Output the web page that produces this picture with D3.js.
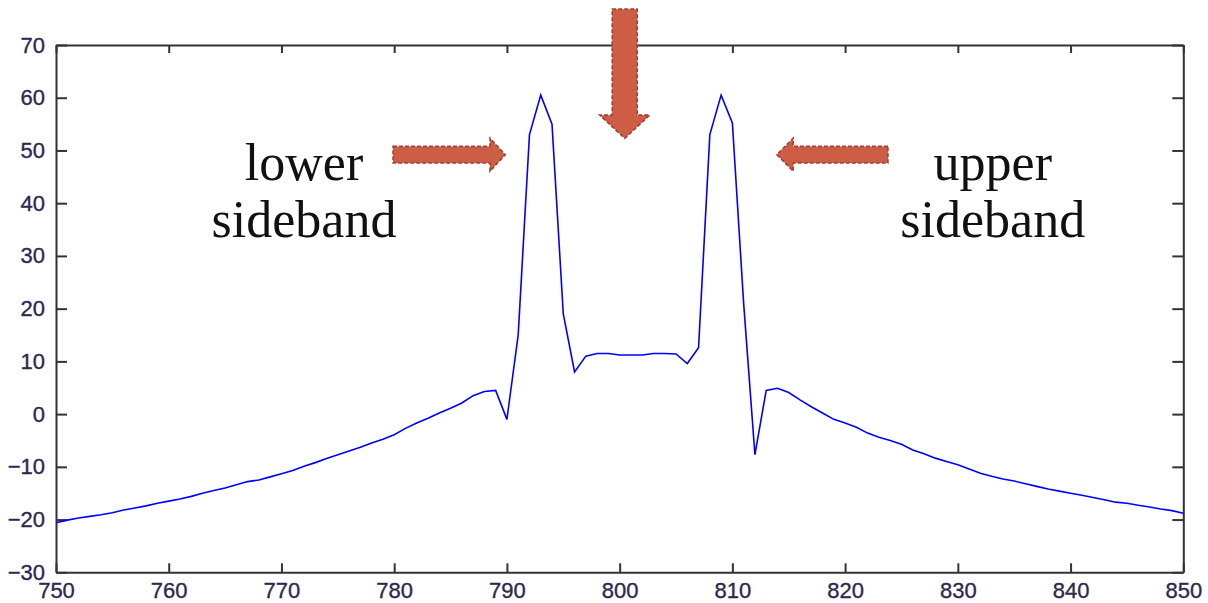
<!DOCTYPE html>
<html>
<head>
<meta charset="utf-8">
<script src="https://cdn.jsdelivr.net/npm/d3@7"></script>
<style>
  html, body { margin: 0; padding: 0; background: #fff; }
  svg { display: block; }
</style>
</head>
<body>
<svg id="chart" width="1208" height="603"></svg>
<script>
// ---- data ----
const freq = [750,751,752,753,754,755,756,757,758,759,760,761,762,763,764,765,766,767,768,769,
  770,771,772,773,774,775,776,777,778,779,780,781,782,783,784,785,786,787,788,789,
  790,791,792,793,794,795,796,797,798,799,800,801,802,803,804,805,806,807,808,809,
  810,811,812,813,814,815,816,817,818,819,820,821,822,823,824,825,826,827,828,829,
  830,831,832,833,834,835,836,837,838,839,840,841,842,843,844,845,846,847,848,849,850];
const power = [-20.6,-20.1,-19.7,-19.4,-19.1,-18.7,-18.2,-17.8,-17.4,-16.9,
  -16.5,-16.1,-15.6,-15.0,-14.5,-14.0,-13.4,-12.8,-12.5,-11.9,
  -11.3,-10.7,-9.9,-9.2,-8.4,-7.7,-7.0,-6.3,-5.5,-4.75,
  -3.9,-2.7,-1.7,-0.8,0.2,1.1,2.1,3.5,4.3,4.5,
  -1.0,15,53,60.5,55,19,8,11.0,11.5,11.5,
  11.2,11.2,11.2,11.5,11.5,11.4,9.6,12.6,53,60.5,
  55.2,21,-7.7,4.5,4.9,4.1,2.7,1.4,0.2,-1.0,
  -1.7,-2.5,-3.6,-4.4,-5.0,-5.7,-6.8,-7.5,-8.35,-9.0,
  -9.6,-10.4,-11.2,-11.8,-12.3,-12.7,-13.2,-13.7,-14.2,-14.6,
  -15.0,-15.4,-15.8,-16.25,-16.7,-16.9,-17.3,-17.6,-18.0,-18.3,-18.8];
const xTicks = [750,760,770,780,790,800,810,820,830,840,850];
const yTicks = [-30,-20,-10,0,10,20,30,40,50,60,70];
const labelLines = [
  {x: 772.0, lines: ["lower", "sideband"]},
  {x: 833.1, lines: ["upper", "sideband"]}
];

// ---- layout ----
const svg = d3.select("#chart");
const L = 56, R = 1183.3, T = 45, B = 572.3;
const x = d3.scaleLinear().domain([750, 850]).range([L, R]);
const y = d3.scaleLinear().domain([-30, 70]).range([B, T]);

const axisColor = "#333";
const numFont = "'Liberation Sans', Arial, sans-serif";

function styleAxis(g) {
  g.selectAll("path.domain").attr("stroke", axisColor).attr("stroke-width", 2);
  g.selectAll(".tick line").attr("stroke", axisColor).attr("stroke-width", 2);
  g.selectAll(".tick text").attr("fill", "#2e2850").attr("font-family", numFont)
    .attr("font-size", 22).attr("stroke", "#2e2850").attr("stroke-width", 0.35);
}

// bottom
svg.append("g").attr("transform", `translate(0,${B})`)
  .call(d3.axisBottom(x).tickValues(xTicks).tickSizeInner(-9).tickSizeOuter(0).tickPadding(10).tickFormat(d3.format("d")))
  .call(styleAxis);
// top
svg.append("g").attr("transform", `translate(0,${T})`)
  .call(d3.axisTop(x).tickValues(xTicks).tickSizeInner(-8).tickSizeOuter(0).tickFormat(""))
  .call(styleAxis);
// left
svg.append("g").attr("transform", `translate(${L},0)`)
  .call(d3.axisLeft(y).tickValues(yTicks).tickSizeInner(-11).tickSizeOuter(0).tickPadding(11).tickFormat(d3.format("d")))
  .call(styleAxis);
// right
svg.append("g").attr("transform", `translate(${R},0)`)
  .call(d3.axisRight(y).tickValues(yTicks).tickSizeInner(-11).tickSizeOuter(0).tickFormat(""))
  .call(styleAxis);

// line
const line = d3.line().x((d, i) => x(freq[i])).y(d => y(d));
svg.append("path").datum(power)
  .attr("d", line)
  .attr("fill", "none")
  .attr("stroke", "#0000ff")
  .attr("stroke-width", 1.6)
  .attr("stroke-linejoin", "miter");

// ---- annotations ----
const arrowFill = "#cd5e45", arrowStroke = "#a3412d";
function drawArrow(pts) {
  svg.append("path")
    .attr("d", d3.line()(pts) + "Z")
    .attr("fill", arrowFill)
    .attr("stroke", arrowStroke)
    .attr("stroke-width", 1.6)
    .attr("stroke-dasharray", "4,2");
}
// right-pointing arrow (toward lower sideband)
{
  const x0 = x(779.9), xh = x(788.5), xt = x(789.85), cy = y(49.2);
  drawArrow([[x0, cy - 8.3], [xh, cy - 8.3], [xh, cy - 16.5], [xt, cy], [xh, cy + 16.5], [xh, cy + 8.3], [x0, cy + 8.3]]);
}
// left-pointing arrow (toward upper sideband)
{
  const x0 = x(823.8), xh = x(815.4), xt = x(813.95), cy = y(49.2);
  drawArrow([[x0, cy - 8.3], [xh, cy - 8.3], [xh, cy - 16.5], [xt, cy], [xh, cy + 16.5], [xh, cy + 8.3], [x0, cy + 8.3]]);
}
// down arrow (carrier)
{
  const cx = x(800.45), y0 = y(76.8), yh = y(56.7), yt = y(52.3);
  drawArrow([[cx - 12.5, y0], [cx + 12.5, y0], [cx + 12.5, yh], [cx + 25, yh], [cx, yt], [cx - 25, yh], [cx - 12.5, yh]]);
}

// labels
labelLines.forEach(lab => {
  lab.lines.forEach((t, i) => {
    svg.append("text")
      .attr("x", x(lab.x))
      .attr("y", y(i === 0 ? 44.4 : 33.6))
      .attr("text-anchor", "middle")
      .attr("font-family", "'Liberation Serif', 'Times New Roman', serif")
      .attr("font-size", 52)
      .attr("fill", "#111")
      .text(t);
  });
});
</script>
</body>
</html>
